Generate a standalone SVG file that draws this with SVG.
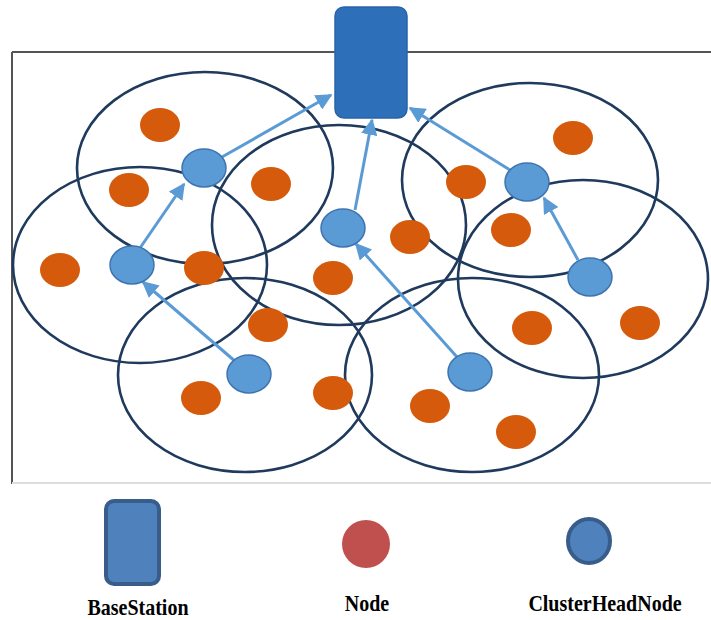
<svg xmlns="http://www.w3.org/2000/svg" width="711" height="620" viewBox="0 0 711 620">
<defs>
<style>
.cl{fill:none;stroke:#1f3a5c;stroke-width:2.6}
.nd{fill:#d55a0c}
.ch{fill:#5b9bd5;stroke:#3d74b0;stroke-width:1.5}
.ar{stroke:#5b9bd5;stroke-width:3;fill:none;marker-end:url(#ah)}
.lbl{font-family:"Liberation Serif","Times New Roman",serif;font-weight:bold;font-size:20px;fill:#000;text-anchor:middle}
</style>
<marker id="ah" viewBox="0 0 10 10" refX="9" refY="5" markerWidth="5.5" markerHeight="5.5" orient="auto" markerUnits="strokeWidth">
<path d="M0,0 L10,5 L0,10 z" fill="#5b9bd5"/>
</marker>
</defs>
<rect width="711" height="620" fill="#fff"/>
<g id="frame">
<line x1="12" y1="52" x2="711" y2="52" stroke="#555" stroke-width="2"/>
<line x1="12" y1="52" x2="12" y2="484" stroke="#555" stroke-width="2"/>
<line x1="12" y1="483" x2="711" y2="483" stroke="#ddd" stroke-width="2"/>
</g>
<g id="clusters">
<ellipse id="cluster1" class="cl" cx="205" cy="168" rx="128" ry="96"/>
<ellipse id="cluster2" class="cl" cx="140" cy="265" rx="127" ry="98"/>
<ellipse id="cluster3" class="cl" cx="339" cy="225" rx="127" ry="100"/>
<ellipse id="cluster4" class="cl" cx="530" cy="180" rx="128" ry="97"/>
<ellipse id="cluster5" class="cl" cx="583" cy="279" rx="125" ry="99"/>
<ellipse id="cluster6" class="cl" cx="245" cy="375" rx="127" ry="97"/>
<ellipse id="cluster7" class="cl" cx="472" cy="375" rx="127" ry="97"/>
</g>
<g id="nodes">
<ellipse class="nd" cx="160" cy="125" rx="20" ry="17"/>
<ellipse class="nd" cx="129" cy="190" rx="20" ry="17"/>
<ellipse class="nd" cx="271" cy="184" rx="20" ry="17"/>
<ellipse class="nd" cx="60" cy="270" rx="20" ry="17"/>
<ellipse class="nd" cx="204" cy="268" rx="20" ry="17"/>
<ellipse class="nd" cx="268" cy="325" rx="20" ry="17"/>
<ellipse class="nd" cx="201" cy="398" rx="20" ry="17"/>
<ellipse class="nd" cx="333" cy="278" rx="20" ry="17"/>
<ellipse class="nd" cx="333" cy="393" rx="20" ry="17"/>
<ellipse class="nd" cx="573" cy="138" rx="20" ry="17"/>
<ellipse class="nd" cx="466" cy="182" rx="20" ry="17"/>
<ellipse class="nd" cx="410" cy="237" rx="20" ry="17"/>
<ellipse class="nd" cx="511" cy="230" rx="20" ry="17"/>
<ellipse class="nd" cx="532" cy="328" rx="20" ry="17"/>
<ellipse class="nd" cx="640" cy="323" rx="20" ry="17"/>
<ellipse class="nd" cx="430" cy="406" rx="20" ry="17"/>
<ellipse class="nd" cx="516" cy="432" rx="20" ry="17"/>
</g>
<g id="connectors">
<line class="ar" x1="140" y1="248" x2="184" y2="184"/>
<line class="ar" x1="222" y1="157" x2="331" y2="95"/>
<line class="ar" x1="236" y1="362" x2="143" y2="282"/>
<line class="ar" x1="355" y1="210" x2="372" y2="120"/>
<line class="ar" x1="510" y1="170" x2="410" y2="108"/>
<line class="ar" x1="578" y1="260" x2="544" y2="198"/>
<line class="ar" x1="457" y1="357" x2="356" y2="244"/>
</g>
<g id="clusterheads">
<ellipse class="ch" cx="204" cy="168" rx="22" ry="19"/>
<ellipse class="ch" cx="132" cy="265" rx="22" ry="19"/>
<ellipse class="ch" cx="343" cy="228" rx="22" ry="19"/>
<ellipse class="ch" cx="527" cy="182" rx="22" ry="19"/>
<ellipse class="ch" cx="590" cy="277" rx="22" ry="19"/>
<ellipse class="ch" cx="249" cy="374" rx="22" ry="19"/>
<ellipse class="ch" cx="470" cy="372" rx="22" ry="19"/>
</g>
<g id="basestation">
<rect x="335" y="7" width="72" height="111" rx="9" fill="#2e6fba" stroke="#2a64a8" stroke-width="1.5"/>
</g>
<g id="legend-basestation">
<rect x="106" y="501" width="53" height="83" rx="8" fill="#4f81bd" stroke="#385d8a" stroke-width="4"/>
<text class="lbl" transform="translate(138,615) scale(1,1.2)">BaseStation</text>
</g>
<g id="legend-node">
<ellipse cx="366" cy="544" rx="24" ry="24" fill="#c0504d"/>
<text class="lbl" transform="translate(367,611) scale(1,1.2)">Node</text>
</g>
<g id="legend-clusterhead">
<ellipse cx="589" cy="541" rx="21" ry="22" fill="#4f81bd" stroke="#385d8a" stroke-width="4"/>
<text class="lbl" transform="translate(605,611) scale(1,1.2)">ClusterHeadNode</text>
</g>
</svg>
